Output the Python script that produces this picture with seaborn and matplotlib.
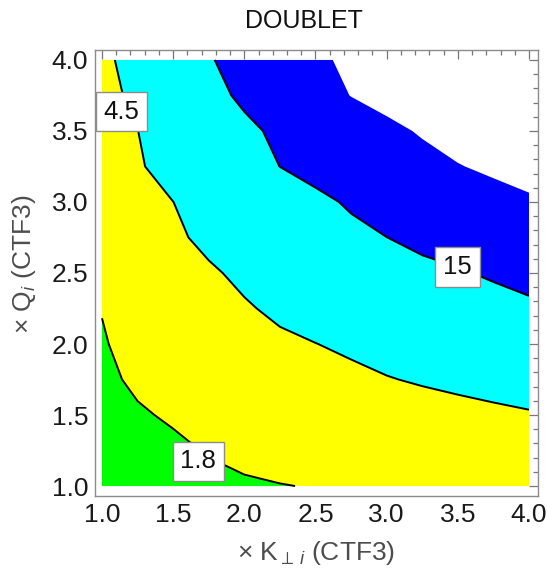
import numpy as np
import matplotlib
matplotlib.use("Agg")
import matplotlib.pyplot as plt
import seaborn as sns
from matplotlib.ticker import MultipleLocator, FormatStrFormatter

sns.set_style("white")
plt.rcParams["font.family"] = ["Liberation Sans", "DejaVu Sans"]
plt.rcParams["mathtext.fontset"] = "custom"
plt.rcParams["mathtext.rm"] = "Liberation Sans"
plt.rcParams["mathtext.it"] = "Liberation Sans:italic"

# Scan grid: transverse-kick factor (x) and charge factor (y), both relative to CTF3
k_perp_factor = [1.0, 1.25, 1.5, 1.75, 2.0, 2.25, 2.5, 2.75, 3.0, 3.25, 3.5, 3.75, 4.0]
q_factor = [1.0, 1.25, 1.5, 1.75, 2.0, 2.25, 2.5, 2.75, 3.0, 3.25, 3.5, 3.75, 4.0]

# Figure of merit along each row of constant charge factor
fom_q100 = [1.162, 1.310, 1.477, 1.649, 1.725, 1.777, 1.831, 1.935, 2.056, 2.166, 2.284, 2.406, 2.535]
fom_q125 = [1.350, 1.507, 1.682, 1.837, 1.958, 2.090, 2.230, 2.380, 2.537, 2.707, 2.889, 3.080, 3.287]
fom_q150 = [1.492, 1.733, 1.874, 2.032, 2.203, 2.392, 2.593, 2.812, 3.050, 3.310, 3.590, 3.892, 4.221]
fom_q175 = [1.665, 1.904, 2.143, 2.413, 2.716, 3.059, 3.442, 3.877, 4.362, 4.773, 5.176, 5.613, 6.086]
fom_q200 = [1.742, 2.048, 2.389, 2.787, 3.251, 4.055, 4.460, 4.983, 5.590, 6.272, 7.029, 7.885, 8.846]
fom_q225 = [1.822, 2.252, 2.782, 3.438, 4.246, 4.973, 5.709, 6.554, 7.523, 8.636, 9.915, 11.38, 13.07]
fom_q250 = [2.054, 2.599, 3.284, 4.154, 5.038, 5.972, 7.085, 8.398, 10.28, 12.94, 14.15, 16.23, 18.51]
fom_q275 = [2.270, 3.025, 4.027, 5.129, 6.353, 7.869, 9.974, 12.81, 14.96, 17.06, 19.45, 22.17, 25.28]
fom_q300 = [2.509, 3.353, 4.486, 5.847, 7.629, 9.944, 12.97, 16.07, 18.75, 21.84, 25.48, 29.70, 34.63]
fom_q325 = [2.773, 4.150, 5.806, 7.980, 10.98, 15.06, 18.01, 21.56, 25.82, 30.91, 36.97, 42.10, 47.47]
fom_q350 = [3.065, 4.468, 6.353, 9.043, 12.86, 16.98, 21.14, 26.34, 32.79, 40.04, 46.99, 55.15, 64.72]
fom_q375 = [3.387, 5.275, 7.901, 11.85, 16.83, 22.22, 29.31, 38.43, 45.28, 53.35, 62.88, 74.15, 87.36]
fom_q400 = [3.743, 5.842, 9.097, 14.17, 19.17, 25.41, 33.65, 42.60, 52.14, 63.81, 78.03, 95.49, 116.8]

# Contour levels that carry a line and a label, plus the top of the plotted range
line_levels = [1.8, 4.5, 15]
range_top = 38
fill_colors = ["#00ff00", "#ffff00", "#00ffff", "#0000ff"]

# Where each level's boxed label sits (data coordinates)
label_x = [1.677, 1.138, 3.498]
label_y = [1.173, 3.636, 2.542]

fom = np.array([fom_q100, fom_q125, fom_q150, fom_q175, fom_q200, fom_q225, fom_q250,
                fom_q275, fom_q300, fom_q325, fom_q350, fom_q375, fom_q400])

fig = plt.figure(figsize=(5.47, 5.74), dpi=100)
ax = fig.add_axes([0.1737, 0.1359, 0.809, 0.777])

ax.contourf(k_perp_factor, q_factor, fom, levels=[0] + line_levels + [range_top],
            colors=fill_colors, antialiased=True)
ax.contour(k_perp_factor, q_factor, fom, levels=line_levels, colors="black",
           linewidths=1.4)

for lvl, lx, ly in zip(line_levels, label_x, label_y):
    ax.text(lx, ly, f"{lvl:g}", ha="center", va="center", fontsize=18.5, color="#111111",
            zorder=6, clip_on=False,
            bbox=dict(boxstyle="square,pad=0.3", fc="white", ec="#8c8c8c", lw=1.0))

ax.set_xlim(0.951, 4.06)
ax.set_ylim(0.930, 4.070)

ax.xaxis.set_major_locator(MultipleLocator(0.5))
ax.xaxis.set_minor_locator(MultipleLocator(0.1))
ax.yaxis.set_major_locator(MultipleLocator(0.5))
ax.yaxis.set_minor_locator(MultipleLocator(0.1))
ax.xaxis.set_major_formatter(FormatStrFormatter("%.1f"))
ax.yaxis.set_major_formatter(FormatStrFormatter("%.1f"))
ax.tick_params(which="both", direction="in", top=True, right=True, color="#777777",
               width=0.9)
ax.tick_params(which="major", length=6.5, labelsize=19, labelcolor="#1a1a1a", pad=5)
ax.tick_params(which="minor", length=3.5)
for sp in ax.spines.values():
    sp.set_color("#8c8c8c")
    sp.set_linewidth(1.0)

ax.set_title("DOUBLET", fontsize=18, color="#111111", pad=16, x=0.472)
ax.set_xlabel(r"× K$_{\perp\, i}$ (CTF3)", fontsize=19, color="#4d4d4d", labelpad=9)
ax.set_ylabel(r"× Q$_{i}$ (CTF3)", fontsize=19, color="#4d4d4d")
ax.yaxis.set_label_coords(-0.128, 0.52)

fig.savefig("out.png", dpi=100)
